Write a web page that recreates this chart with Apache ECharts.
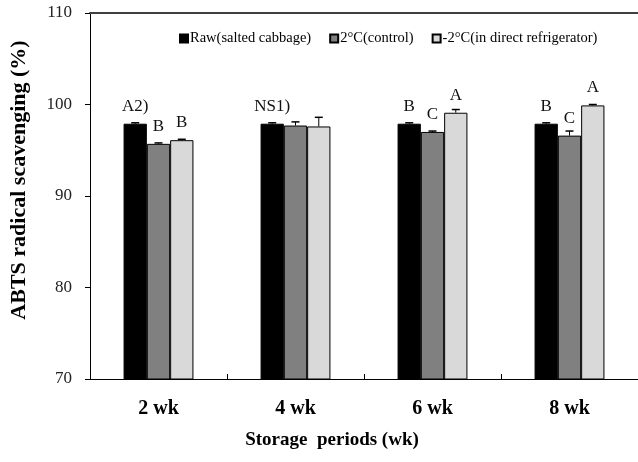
<!DOCTYPE html>
<html>
<head>
<meta charset="utf-8">
<script src="https://cdn.jsdelivr.net/npm/echarts@6/dist/echarts.min.js"></script>
<style>html,body{margin:0;padding:0;background:#fff;}#c{width:638px;height:462px;}</style>
</head>
<body>
<div id="c"></div>
<script>
var categories = ['2 wk', '4 wk', '6 wk', '8 wk'];
var seriesNames = ['Raw(salted cabbage)', '2\u00b0C(control)', '-2\u00b0C(in direct refrigerator)'];
var rawValues = [97.9, 97.9, 97.9, 97.9];
var controlValues = [95.7, 97.7, 97.0, 96.6];
var minus2Values = [96.1, 97.6, 99.1, 99.9];
var rawErrors = [0.1, 0.1, 0.1, 0.1];
var controlErrors = [0.1, 0.4, 0.1, 0.5];
var minus2Errors = [0.1, 1.0, 0.35, 0.1];
var rawLetters = ['A2)', 'NS1)', 'B', 'B'];
var controlLetters = ['B', '', 'C', 'C'];
var minus2Letters = ['B', '', 'A', 'A'];
var yTicks = [70, 80, 90, 100, 110];

var SERIF = '"Liberation Serif","Times New Roman",serif';
var colors = ['#000000', '#808080', '#d9d9d9'];
var values = [rawValues, controlValues, minus2Values];
var errors = [rawErrors, controlErrors, minus2Errors];
var letters = [rawLetters, controlLetters, minus2Letters];
var BAR_FRAC = 0.17;

var chart = echarts.init(document.getElementById('c'));
var series = [];
values.forEach(function (vals, si) {
  series.push({
    name: seriesNames[si],
    type: 'bar',
    data: vals,
    barWidth: (BAR_FRAC * 100) + '%',
    barGap: '0%',
    itemStyle: { color: colors[si], borderColor: '#000', borderWidth: 1 },
    label: {
      show: true, position: 'top', distance: 9,
      fontFamily: SERIF, fontSize: 17, color: '#111',
      formatter: function (p) { return letters[si][p.dataIndex]; }
    },
    z: 2
  });
});
values.forEach(function (vals, si) {
  series.push({
    type: 'custom',
    data: vals.map(function (v, i) { return [i, v, errors[si][i]]; }),
    renderItem: function (params, api) {
      var i = api.value(0), v = api.value(1), e = api.value(2);
      var bw = api.size([1, 0])[0] * BAR_FRAC;
      var c = api.coord([i, v]);
      var x = c[0] + (si - 1) * bw;
      var yTop = api.coord([i, v + e])[1];
      var yBot = api.coord([i, v])[1];
      var cap = 4;
      return {
        type: 'group',
        children: [
          { type: 'line', shape: { x1: x, y1: yTop, x2: x, y2: yBot }, style: { stroke: '#000', lineWidth: 1 } },
          { type: 'line', shape: { x1: x - cap, y1: yTop, x2: x + cap, y2: yTop }, style: { stroke: '#000', lineWidth: 1.5 } }
        ]
      };
    },
    z: 3,
    silent: true
  });
});

chart.setOption({
  animation: false,
  backgroundColor: '#fff',
  grid: { left: 88, right: -3, top: 13, bottom: 83 },
  legend: {
    data: seriesNames,
    top: 26, left: 174,
    itemWidth: 8, itemHeight: 8, itemGap: 18,
    icon: 'rect',
    textStyle: { fontFamily: SERIF, fontSize: 14.5, color: '#000', padding: [0, 0, 0, -3] }
  },
  xAxis: [{
    type: 'category',
    data: categories,
    axisLine: { lineStyle: { color: '#000', width: 1 } },
    axisTick: { show: true, inside: true, length: 5, alignWithLabel: false, lineStyle: { color: '#000' } },
    axisLabel: { fontFamily: SERIF, fontSize: 20, fontWeight: 'bold', color: '#000', margin: 20 },
    name: 'Storage  periods (wk)',
    nameLocation: 'middle',
    nameGap: 52,
    nameTextStyle: { fontFamily: SERIF, fontSize: 19, fontWeight: 'bold', color: '#000', padding: [0, 64, 0, 0] }
  }, {
    type: 'category',
    position: 'top',
    data: categories,
    axisLine: { show: true, lineStyle: { color: '#404040', width: 2 } },
    axisTick: { show: false },
    axisLabel: { show: false }
  }],
  yAxis: {
    type: 'value',
    min: 70, max: 110, interval: 10,
    axisLine: { show: true, lineStyle: { color: '#000', width: 1 } },
    axisTick: { show: true, length: 5, lineStyle: { color: '#000' } },
    splitLine: { show: false },
    axisLabel: {
      fontFamily: SERIF, fontSize: 17, color: '#222', margin: 18,
      formatter: function (v) { return yTicks.indexOf(v) >= 0 ? String(v) : ''; }
    },
    name: 'ABTS radical scavenging (%)',
    nameLocation: 'middle',
    nameGap: 60,
    nameTextStyle: { fontFamily: SERIF, fontSize: 22, fontWeight: 'bold', color: '#000', padding: [0, 0, 0, 32] }
  },
  series: series
});
</script>
</body>
</html>
